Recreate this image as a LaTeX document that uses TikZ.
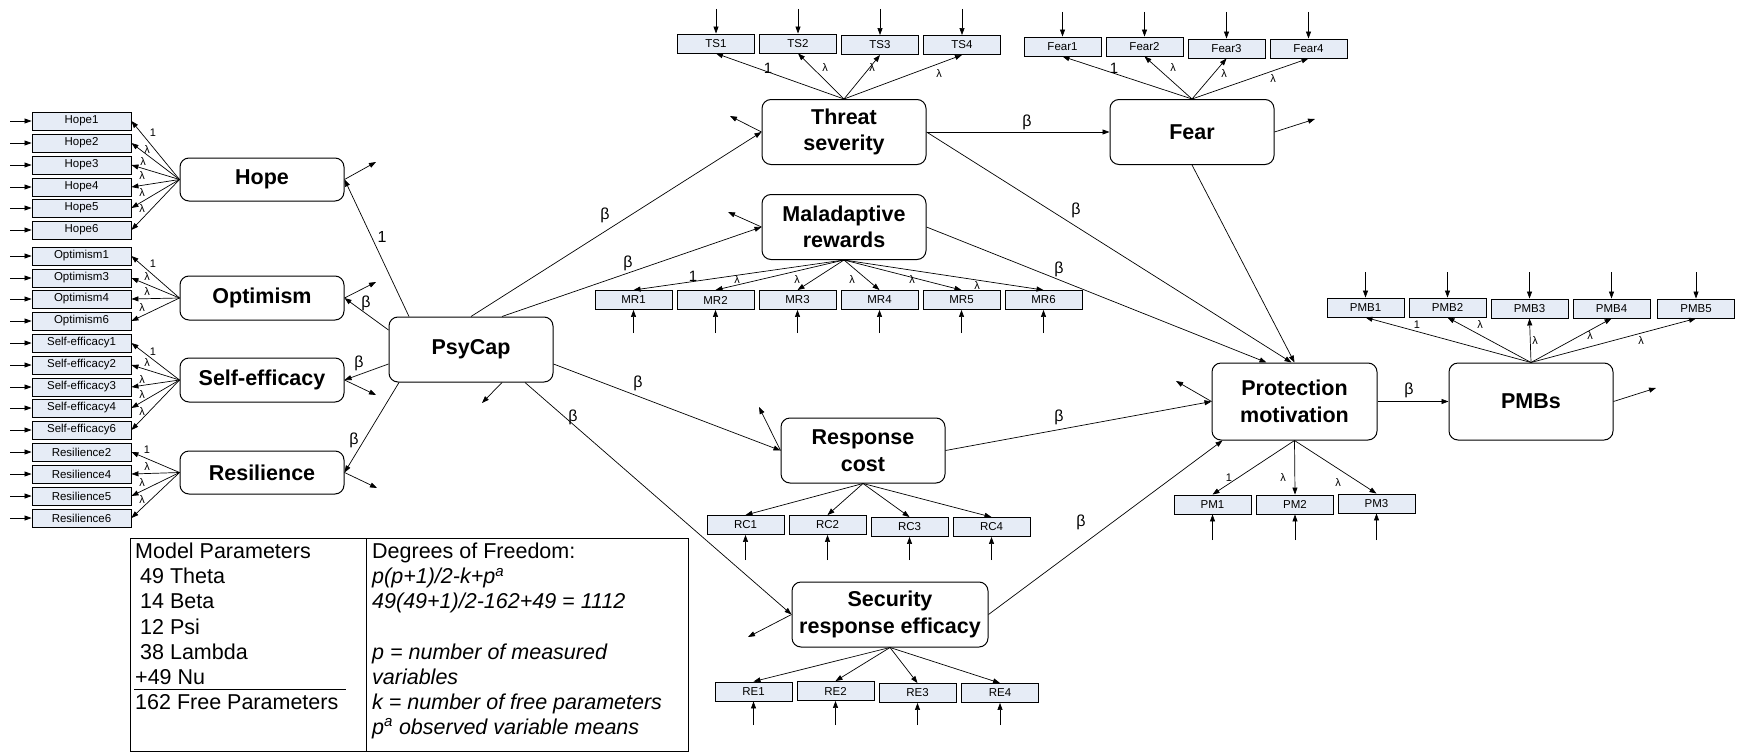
\documentclass[tikz,border=0pt]{standalone}
\usepackage{fontspec}
\setmainfont{Liberation Sans}
\usetikzlibrary{positioning,arrows.meta}
\definecolor{semInk}{HTML}{000000}
\definecolor{semFill}{HTML}{E6ECF6}
\newcommand{\latfont}{\fontsize{21.5}{26.5}\selectfont\bfseries}
\newcommand{\indfont}{\fontsize{11.5}{13}\selectfont}
\newcommand{\betafont}{\fontsize{16}{18}\selectfont}
\newcommand{\lamfont}{\fontsize{11}{12}\selectfont}
\newcommand{\tabfont}{\fontsize{21.5}{25.1}\selectfont}
\newcommand{\onelab}{{\fontsize{15}{16}\selectfont 1}}
\begin{document}
\begin{tikzpicture}[x=1pt, y=-1pt,
      lat/.style={draw=semInk, line width=1pt, rounded corners=9pt, fill=white,
        align=center, font=\latfont, minimum width=164pt, minimum height=65pt, inner sep=0pt},
      ind/.style={draw=semInk, line width=0.9pt, fill=semFill, font=\indfont,
        minimum width=77pt, minimum height=19pt, inner sep=0pt},
      lind/.style={ind, minimum width=99pt, minimum height=18pt},
      a/.style={-{Triangle[length=7pt,width=5pt]}, color=semInk, line width=0.7pt},
      bt/.style={font=\betafont, inner sep=0pt},
      lam/.style={font=\lamfont, inner sep=0pt}]
    \useasboundingbox (0,0) rectangle (1739,752);
    % latent variables
    \node[lat, minimum height=43pt] (hope) at (262,179.5) {Hope};
    \node[lat, minimum height=44pt] (opt) at (262,298) {Optimism};
    \node[lat, minimum height=44pt] (seff) at (262,380) {Self-efficacy};
    \node[lat, minimum height=43pt] (res) at (262,472.5) {Resilience};
    \node[lat] (psy) at (471,349.5) {PsyCap};
    \node[lat] (threat) at (844,132) {Threat\\severity};
    \node[lat, below=29pt of threat] (mal) {Maladaptive\\rewards};
    \node[lat, right=183pt of threat] (fear) {Fear};
    \node[lat] (rc) at (863,450.5) {Response\\cost};
    \node[lat, minimum width=196pt] (sre) at (890,614.5) {Security\\response efficacy};
    \node[lat, minimum width=165pt, minimum height=77pt] (pm) at (1294.5,401.5) {Protection\\motivation};
    \node[lat, minimum height=77pt, right=71pt of pm] (pmbs) {PMBs};
    % Hope
    \foreach \n/\y in {1/121,2/143,3/165,4/187,5/208,6/230}{
      \node[lind] (h\n) at (81.5,\y) {Hope\n};
      \coordinate (uh\n) at (10,\y);
      \draw[a] (uh\n) -- (h\n);
    }
    \foreach \n/\lab/\lx/\ly in {1/1/153/133,2/λ/147/150,3/λ/143/162,4/λ/142/176,5/λ/142/193,6/λ/142/209}{
      \draw[a] (hope.west) -- (h\n.east);
      \node[lam] (lh\n) at (\lx,\ly) {\lab};
    }
    % Optimism
    \foreach \n/\y in {1/256,3/278,4/299,6/321}{
      \node[lind] (o\n) at (81.5,\y) {Optimism\n};
      \coordinate (uo\n) at (10,\y);
      \draw[a] (uo\n) -- (o\n);
    }
    \foreach \n/\lab/\lx/\ly in {1/1/153/264,3/λ/147/277,4/λ/147/292,6/λ/142/308}{
      \draw[a] (opt.west) -- (o\n.east);
      \node[lam] (lo\n) at (\lx,\ly) {\lab};
    }
    % Self-efficacy
    \foreach \n/\y in {1/343,2/365,3/387,4/408,6/430}{
      \node[lind] (s\n) at (81.5,\y) {Self-efficacy\n};
      \coordinate (us\n) at (10,\y);
      \draw[a] (us\n) -- (s\n);
    }
    \foreach \n/\lab/\lx/\ly in {1/1/153/352,2/λ/147/363,3/λ/142/380,4/λ/142/395,6/λ/142/412}{
      \draw[a] (seff.west) -- (s\n.east);
      \node[lam] (ls\n) at (\lx,\ly) {\lab};
    }
    % Resilience
    \foreach \n/\y in {2/452,4/474,5/496,6/518}{
      \node[lind] (r\n) at (81.5,\y) {Resilience\n};
      \coordinate (ur\n) at (10,\y);
      \draw[a] (ur\n) -- (r\n);
    }
    \foreach \n/\lab/\lx/\ly in {2/1/147/450,4/λ/147/467,5/λ/142/483,6/λ/142/500}{
      \draw[a] (res.west) -- (r\n.east);
      \node[lam] (lr\n) at (\lx,\ly) {\lab};
    }
    % Threat severity
    \foreach \n/\x/\y in {1/716/43.5,2/798/43.5,3/880/45,4/962/45}{
      \node[ind] (ts\n) at (\x,\y) {TS\n};
      \coordinate (uts\n) at (\x,9);
      \draw[a] (uts\n) -- (ts\n);
    }
    \foreach \n/\lab/\lx/\ly in {1/\onelab/768/68,2/λ/825/68,3/λ/872/68,4/λ/939/74}{
      \draw[a] (threat.north) -- (ts\n.south);
      \node[lam] (lts\n) at (\lx,\ly) {\lab};
    }
    % Fear
    \foreach \n/\x/\y in {1/1062.5/46.5,2/1144.5/46.5,3/1226.5/48.5,4/1308.5/48.5}{
      \node[ind] (fe\n) at (\x,\y) {Fear\n};
      \coordinate (ufe\n) at (\x,12);
      \draw[a] (ufe\n) -- (fe\n);
    }
    \foreach \n/\lab/\lx/\ly in {1/\onelab/1114/68,2/λ/1173/68,3/λ/1224/74,4/λ/1273/79}{
      \draw[a] (fear.north) -- (fe\n.south);
      \node[lam] (lfe\n) at (\lx,\ly) {\lab};
    }
    % Maladaptive rewards
    \foreach \n/\x in {1/633.5,2/715.5,3/797.5,4/879.5,5/961.5,6/1043.5}{
      \node[ind] (mr\n) at (\x,300) {MR\n};
      \coordinate (umr\n) at (\x,333);
      \draw[a] (umr\n) -- (mr\n);
    }
    \foreach \n/\lab/\lx/\ly in {1/\onelab/693/276,2/λ/737/280,3/λ/797/280,4/λ/852/280,5/λ/912/280,6/λ/977/286}{
      \draw[a] (mal.south) -- (mr\n.north);
      \node[lam] (lmr\n) at (\lx,\ly) {\lab};
    }
    % Response cost
    \foreach \n/\x/\y in {1/745.5/525,2/827.5/525,3/909.5/527,4/991.5/527}{
      \node[ind] (rc\n) at (\x,\y) {RC\n};
      \coordinate (urc\n) at (\x,560);
      \draw[a] (urc\n) -- (rc\n);
      \draw[a] (rc.south) -- (rc\n.north);
    }
    % Security response efficacy
    \foreach \n/\x/\y in {1/753.5/691.5,2/835.5/691,3/917.5/693,4/1000/693}{
      \node[ind] (re\n) at (\x,\y) {RE\n};
      \coordinate (ure\n) at (\x,725);
      \draw[a] (ure\n) -- (re\n);
      \draw[a] (sre.south) -- (re\n.north);
    }
    % Protection motivation
    \foreach \n/\x/\y in {1/1212.5/504.5,2/1295/504.5,3/1376.5/503.5}{
      \node[ind] (pm\n) at (\x,\y) {PM\n};
      \coordinate (upm\n) at (\x,540);
      \draw[a] (upm\n) -- (pm\n);
    }
    \foreach \n/\lab/\lx/\ly in {1/1/1229/478,2/λ/1283/478,3/λ/1338/483}{
      \draw[a] (pm.south) -- (pm\n.north);
      \node[lam] (lpm\n) at (\lx,\ly) {\lab};
    }
    % PMBs
    \foreach \n/\x/\y in {1/1365.5/307.5,2/1447.5/307.5,3/1529.5/308.5,4/1611.5/308.5,5/1696/308.5}{
      \node[ind] (pmb\n) at (\x,\y) {PMB\n};
      \coordinate (upmb\n) at (\x,272);
      \draw[a] (upmb\n) -- (pmb\n);
    }
    \foreach \n/\lab/\lx/\ly in {1/1/1417/325,2/λ/1480/325,3/λ/1535/341,4/λ/1590/336,5/λ/1641/341}{
      \draw[a] (pmbs.north) -- (pmb\n.south);
      \node[lam] (lpmb\n) at (\lx,\ly) {\lab};
    }
    % disturbances
    \coordinate (dhope) at (376,162);
    \coordinate (dopt) at (376,282);
    \coordinate (dseff) at (376,395);
    \coordinate (dres) at (377,488);
    \coordinate (dpsy) at (482,403);
    \coordinate (dthreat) at (730,116);
    \coordinate (dmal) at (728,212);
    \coordinate (drc) at (759,407);
    \coordinate (dsre) at (748,637);
    \coordinate (dfear) at (1315,119);
    \coordinate (dpm) at (1176,381);
    \coordinate (dpmbs) at (1656,388);
    \draw[a] (hope.east) -- (dhope);
    \draw[a] (opt.east) -- (dopt);
    \draw[a] (seff.east) -- (dseff);
    \draw[a] (res.east) -- (dres);
    \draw[a] ([xshift=31pt]psy.south) -- (dpsy);
    \draw[a] (threat.west) -- (dthreat);
    \draw[a] (mal.west) -- (dmal);
    \draw[a] (rc.west) -- (drc);
    \draw[a] (sre.west) -- (dsre);
    \draw[a] (fear.east) -- (dfear);
    \draw[a] (pm.west) -- (dpm);
    \draw[a] (pmbs.east) -- (dpmbs);
    % structural paths
    \draw[a] ([xshift=-62pt]psy.north) -- (hope.east);
    \draw[a] ([yshift=19.5pt]psy.west) -- (opt.east);
    \draw[a] ([yshift=-14.5pt]psy.west) -- (seff.east);
    \draw[a] ([xshift=-72pt]psy.south) -- (res.east);
    \draw[a] (psy.north) -- (threat.west);
    \draw[a] ([xshift=31pt]psy.north) -- (mal.west);
    \draw[a] ([yshift=-14.5pt]psy.east) -- (rc.west);
    \draw[a] ([xshift=54pt]psy.south) -- (sre.west);
    \draw[a] (threat) -- (fear);
    \draw[a] (threat.east) -- ([xshift=-3pt]pm.north);
    \draw[a] (fear.south) -- (pm.north);
    \draw[a] (mal.east) -- ([xshift=-28pt]pm.north);
    \draw[a] (rc.east) -- (pm.west);
    \draw[a] (sre.east) -- ([xshift=11pt]pm.south west);
    \draw[a] (pm) -- (pmbs);
    % path labels
    \node[bt] (bhope) at (382,237) {1};
    \node[bt] (bopt) at (366,303) {β};
    \node[bt] (bseff) at (359,363) {β};
    \node[bt] (bres) at (354,440) {β};
    \node[bt] (bthreat) at (605,215) {β};
    \node[bt] (bmal) at (628,263) {β};
    \node[bt] (brc) at (638,383) {β};
    \node[bt] (bsre) at (573,417) {β};
    \node[bt] (bfear) at (1027,122) {β};
    \node[bt] (bthpm) at (1076,210) {β};
    \node[bt] (bmalpm) at (1059,269) {β};
    \node[bt] (brcpm) at (1059,417) {β};
    \node[bt] (bsrepm) at (1081,522) {β};
    \node[bt] (bpm) at (1409,390) {β};
    % parameter table
    \draw[line width=1pt] (130,538) rectangle (688,751);
    \draw[line width=1pt] (366,538) -- (366,751);
    \node[font=\tabfont, align=left, anchor=north west, inner sep=0pt] (mpar) at (135,543)
      {Model Parameters\\\hspace*{5pt}49 Theta\\\hspace*{5pt}14 Beta\\\hspace*{5pt}12 Psi\\
       \hspace*{5pt}38 Lambda\\+49 Nu\\162 Free Parameters};
    \draw[line width=1pt] (134,689) -- (346,689);
    \node[font=\tabfont, align=left, anchor=north west, inner sep=0pt] (dof) at (372,543)
      {Degrees of Freedom:\\\textit{p(p+1)/2-k+p\textsuperscript{a}}\\
       \textit{49(49+1)/2-162+49 = 1112}\\[25.1pt]
       \textit{p = number of measured}\\\textit{variables}\\
       \textit{k = number of free parameters}\\\textit{p\textsuperscript{a} observed variable means}};
  \end{tikzpicture}
\end{document}
